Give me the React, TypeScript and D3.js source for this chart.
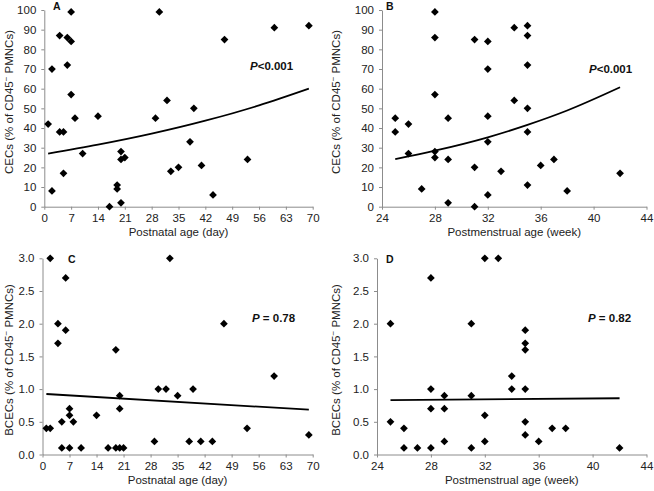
import { useEffect, useRef } from 'react';
import * as d3 from 'd3';

// Panel A / C share postnatal days; B / D share postmenstrual weeks
const aDays = [1, 2, 2, 4, 4, 5, 5, 6, 6, 7, 7, 7, 8, 10, 14, 17, 19, 19, 20, 20, 20, 21, 29, 30, 32, 33, 35, 38, 39, 41, 44, 47, 53, 60, 69];
const aCec = [42, 70, 8, 87, 38, 38, 17, 86, 72, 99, 84, 57, 45, 27, 46, 0, 11, 9, 2, 28, 24, 25, 45, 99, 54, 18, 20, 33, 50, 21, 6, 85, 24, 91, 92];

const bWeeks = [25, 25, 26, 26, 27, 28, 28, 28, 28, 28, 29, 29, 29, 31, 31, 31, 32, 32, 32, 32, 32, 33, 34, 34, 35, 35, 35, 35, 35, 35, 36, 37, 38, 42];
const bCec = [45, 38, 42, 27, 9, 99, 86, 57, 28, 25, 45, 24, 2, 85, 20, 0, 84, 70, 46, 33, 6, 18, 91, 54, 92, 87, 72, 50, 38, 11, 21, 24, 8, 17];

const cDays = [1, 2, 2, 4, 4, 5, 5, 6, 6, 7, 7, 7, 8, 10, 14, 17, 19, 19, 20, 20, 20, 21, 29, 30, 32, 33, 35, 38, 39, 41, 44, 47, 53, 60, 69];
const cBcec = [0.4, 0.4, 3.0, 2.0, 1.7, 0.5, 0.1, 2.7, 1.9, 0.7, 0.6, 0.1, 0.5, 0.1, 0.6, 0.1, 1.6, 0.1, 0.9, 0.7, 0.1, 0.1, 0.2, 1.0, 1.0, 3.0, 0.9, 0.2, 1.0, 0.2, 0.2, 2.0, 0.4, 1.2, 0.3];

const dWeeks = [25, 25, 26, 26, 27, 28, 28, 28, 28, 29, 29, 29, 31, 31, 31, 32, 32, 32, 33, 34, 34, 35, 35, 35, 35, 35, 35, 36, 37, 38, 42];
const dBcec = [2.0, 0.5, 0.4, 0.1, 0.1, 2.7, 1.0, 0.7, 0.1, 0.9, 0.7, 0.2, 2.0, 0.9, 0.1, 3.0, 0.6, 0.2, 3.0, 1.2, 1.0, 1.9, 1.7, 1.6, 1.0, 0.5, 0.3, 0.2, 0.4, 0.4, 0.1];

// fitted curves
const trendA: [number, number][] = [[1, 27], [14, 31.5], [28, 37.1], [42, 43.7], [56, 51.5], [69, 60]];
const trendB: [number, number][] = [[25, 24.2], [28, 28.5], [32, 35.3], [35, 41.6], [38, 48.9], [42, 60.7]];
const trendC: [number, number][] = [[1, 0.925], [69, 0.685]];
const trendD: [number, number][] = [[25, 0.83], [42, 0.86]];

const dayTicks = [0, 7, 14, 21, 28, 35, 42, 49, 56, 63, 70];
const weekTicks = [24, 28, 32, 36, 40, 44];
const cecTicks = [0, 10, 20, 30, 40, 50, 60, 70, 80, 90, 100];
const bcecTicks = [0, 0.5, 1.0, 1.5, 2.0, 2.5, 3.0];

const FONT = '"Liberation Sans", Arial, sans-serif';

type Panel = {
  letter: string; letterX: number;
  xs: number[]; ys: number[]; trend: [number, number][];
  xDomain: [number, number]; yDomain: [number, number];
  xRange: [number, number]; yRange: [number, number];
  xTicks: number[]; yTicks: number[]; yFmt: (v: number) => string;
  xTitle: string; yTitle: string; titleX: number; titleY: number;
  pText: string; pX: number; pY: number;
};

export default function App() {
  const svgRef = useRef<SVGSVGElement>(null);

  useEffect(() => {
    if (!svgRef.current) return;
    const svg = d3.select(svgRef.current);
    svg.selectAll("*").remove();

    const panels: Panel[] = [
      { letter: "A", letterX: 53, xs: aDays, ys: aCec, trend: trendA, xDomain: [0, 70], yDomain: [0, 100],
        xRange: [44.3, 312.7], yRange: [206.7, 10], xTicks: dayTicks, yTicks: cecTicks, yFmt: d3.format("d"),
        xTitle: "Postnatal age (day)", yTitle: "CECs", titleX: 13, titleY: 102, pText: "<0.001", pX: 250, pY: 69.5 },
      { letter: "B", letterX: 386, xs: bWeeks, ys: bCec, trend: trendB, xDomain: [24, 44], yDomain: [0, 100],
        xRange: [382, 646.5], yRange: [206.7, 10], xTicks: weekTicks, yTicks: cecTicks, yFmt: d3.format("d"),
        xTitle: "Postmenstrual age (week)", yTitle: "CECs", titleX: 340, titleY: 102, pText: "<0.001", pX: 589, pY: 73 },
      { letter: "C", letterX: 68, xs: cDays, ys: cBcec, trend: trendC, xDomain: [0, 70], yDomain: [0, 3],
        xRange: [42.5, 312.7], yRange: [454.5, 258.3], xTicks: dayTicks, yTicks: bcecTicks, yFmt: d3.format(".1f"),
        xTitle: "Postnatal age (day)", yTitle: "BCECs", titleX: 13, titleY: 360, pText: " = 0.78", pX: 252, pY: 321.7 },
      { letter: "D", letterX: 386, xs: dWeeks, ys: dBcec, trend: trendD, xDomain: [24, 44], yDomain: [0, 3],
        xRange: [377, 646.5], yRange: [454.5, 258.3], xTicks: weekTicks, yTicks: bcecTicks, yFmt: d3.format(".1f"),
        xTitle: "Postmenstrual age (week)", yTitle: "BCECs", titleX: 340, titleY: 360, pText: " = 0.82", pX: 588, pY: 322 },
    ];

    const diamond = d3.symbol(d3.symbolSquare, 30)();

    panels.forEach((p) => {
      const x = d3.scaleLinear().domain(p.xDomain).range(p.xRange);
      const y = d3.scaleLinear().domain(p.yDomain).range(p.yRange);
      const g = svg.append("g").attr("font-family", FONT);

      // axes
      const xAxis = g.append("g")
        .attr("transform", `translate(0,${p.yRange[0]})`)
        .call(d3.axisBottom(x).tickValues(p.xTicks).tickSize(3).tickSizeOuter(0).tickPadding(4));
      const yAxis = g.append("g")
        .attr("transform", `translate(${p.xRange[0]},0)`)
        .call(d3.axisLeft(y).tickValues(p.yTicks).tickFormat(p.yFmt as any).tickSize(3).tickSizeOuter(0).tickPadding(5));
      [xAxis, yAxis].forEach((a) => {
        a.selectAll("path, line").attr("stroke", "#8c8c8c");
        a.selectAll("text").attr("fill", "#222").attr("font-size", "11.5px").attr("font-family", FONT);
      });

      // axis titles
      g.append("text")
        .attr("x", (p.xRange[0] + p.xRange[1]) / 2)
        .attr("y", p.yRange[0] + 29.5)
        .attr("text-anchor", "middle")
        .attr("font-size", "11.5px")
        .attr("fill", "#222")
        .text(p.xTitle);

      const yt = g.append("text")
        .attr("transform", `translate(${p.titleX},${p.titleY}) rotate(-90)`)
        .attr("text-anchor", "middle")
        .attr("font-size", "11.5px")
        .attr("fill", "#222");
      yt.append("tspan").text(`${p.yTitle} (% of CD45`);
      yt.append("tspan").attr("dy", -4.5).attr("font-size", "8px").text("\u2212");
      yt.append("tspan").attr("dy", 4.5).text(" PMNCs)");

      // points
      g.append("g").selectAll("path")
        .data(p.xs.map((v, i) => [v, p.ys[i]]))
        .join("path")
        .attr("d", diamond)
        .attr("transform", (d) => `translate(${x(d[0])},${y(d[1])}) rotate(45)`)
        .attr("fill", "#000");

      // trend
      g.append("path")
        .datum(p.trend)
        .attr("d", d3.line<[number, number]>().x((d) => x(d[0])).y((d) => y(d[1])).curve(d3.curveMonotoneX))
        .attr("fill", "none")
        .attr("stroke", "#000")
        .attr("stroke-width", 1.8);

      // panel letter
      g.append("text")
        .attr("x", p.letterX)
        .attr("y", p.yRange[1] + (p.yRange[1] < 100 ? -0.5 : 5))
        .attr("font-size", "10.5px")
        .attr("font-weight", "bold")
        .attr("fill", "#111")
        .text(p.letter);

      // P value
      const pt = g.append("text")
        .attr("x", p.pX)
        .attr("y", p.pY)
        .attr("font-size", "11.5px")
        .attr("font-weight", "bold")
        .attr("fill", "#111");
      pt.append("tspan").attr("font-style", "italic").text("P");
      pt.append("tspan").text(p.pText);
    });
  }, []);

  return (
    <svg ref={svgRef} width={654} height={491}
      style={{ position: "absolute", left: 0, top: 0, background: "#fff" }} />
  );
}
